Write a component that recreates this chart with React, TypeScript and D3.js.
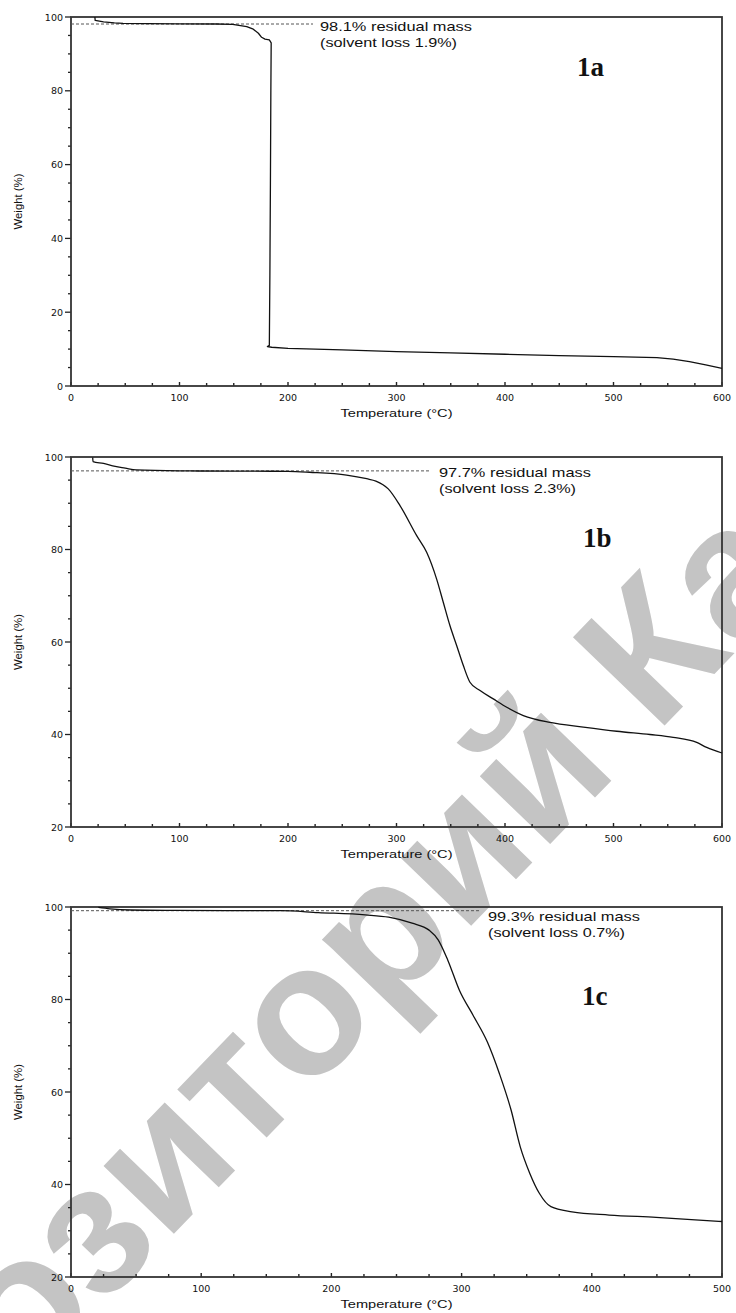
import React, { useLayoutEffect, useRef, useState } from "react";
import * as d3 from "d3";

// ---------- data ----------
const tempA = [22, 22.3, 30, 40, 48, 70, 100, 134, 149, 162, 168, 172.7, 175.7, 178.8, 182.8, 184.5, 184.2, 183.8, 183.3, 182.8, 181, 185, 200, 250, 300, 350, 400, 450, 500, 540, 555, 570, 585, 600];
const weightA = [100, 99.1, 98.7, 98.4, 98.25, 98.2, 98.15, 98.1, 98.0, 97.4, 96.7, 95.6, 94.5, 94.0, 93.8, 93.0, 80, 55, 30, 11, 10.7, 10.5, 10.2, 9.8, 9.3, 8.95, 8.6, 8.25, 7.95, 7.7, 7.3, 6.6, 5.7, 4.8];

const tempB = [20, 20.3, 30, 38.4, 50, 60, 100, 150, 200, 220, 254, 272.5, 281, 292.4, 303.2, 318.6, 327.8, 337, 343.1, 349.3, 355.5, 361.6, 367.7, 377, 389.2, 401.6, 416.9, 441.5, 472.2, 503, 533.6, 555, 576.7, 585.9, 600];
const weightB = [99.9, 99.0, 98.6, 98.1, 97.6, 97.2, 97.0, 96.95, 96.9, 96.7, 96.1, 95.3, 94.8, 93.1, 89.5, 83, 79.4, 73.6, 68.6, 63.5, 59.2, 54.9, 51.3, 49.5, 47.7, 45.9, 44.1, 42.6, 41.6, 40.7, 40.0, 39.4, 38.3, 37.2, 36.0];

const tempC = [21, 30, 46, 80, 120, 161, 190, 226, 244, 262, 275, 282, 289.4, 298.3, 309, 319.8, 329, 338, 345, 352.4, 359.7, 368.6, 384.8, 413.3, 449.4, 500];
const weightC = [99.9, 99.6, 99.35, 99.25, 99.2, 99.2, 98.8, 98.3, 97.8, 96.5, 95.0, 92.9, 88.5, 82, 76.5, 70.8, 64, 56.1, 48.2, 42.4, 38.1, 35.2, 34.1, 33.4, 32.9, 32.0];

const panelLabels = ["1a", "1b", "1c"];
const xMaxes = [600, 600, 500];
const yMins = [0, 20, 20];
const yMax = 100;
const xTickLabelsA = [0, 100, 200, 300, 400, 500, 600];
const xTickLabelsB = [0, 100, 200, 300, 400, 500, 600];
const xTickLabelsC = [0, 100, 200, 300, 400, 500];
const yTickLabelsA = [0, 20, 40, 60, 80, 100];
const yTickLabelsB = [20, 40, 60, 80, 100];
const yTickLabelsC = [20, 40, 60, 80, 100];
const residualTexts = ["98.1% residual mass", "97.7% residual mass", "99.3% residual mass"];
const solventTexts = ["(solvent loss 1.9%)", "(solvent loss 2.3%)", "(solvent loss 0.7%)"];
const residualLevels = [98.1, 97.0, 99.2];
const xTitle = "Temperature (°C)";
const yTitle = "Weight (%)";
const watermarkText = "Репозиторий КарГУ";

// ---------- layout ----------
const W = 736;
const H = 1313;
const LEFT = 71;
const RIGHT = 722;
const layouts = [
  { top: 17, bottom: 386, dashEnd: 313, textX: 320, textY1: 31, textY2: 47, labelX: 577, labelY: 76, smooth: false },
  { top: 457, bottom: 827, dashEnd: 430, textX: 439, textY1: 477, textY2: 493, labelX: 583, labelY: 547, smooth: true },
  { top: 907, bottom: 1277, dashEnd: 480, textX: 488, textY1: 921, textY2: 937, labelX: 582, labelY: 1005, smooth: true },
];

const series = [
  { t: tempA, w: weightA, xt: xTickLabelsA, yt: yTickLabelsA },
  { t: tempB, w: weightB, xt: xTickLabelsB, yt: yTickLabelsB },
  { t: tempC, w: weightC, xt: xTickLabelsC, yt: yTickLabelsC },
];

const SANS = "'DejaVu Sans', Arial, sans-serif";
const ARIAL = "'Liberation Sans', Arial, sans-serif";
const SERIF = "'Liberation Serif', 'Times New Roman', serif";

function Panel({ i }: { i: number }) {
  const L = layouts[i];
  const s = series[i];
  const x = d3.scaleLinear().domain([0, xMaxes[i]]).range([LEFT, RIGHT]);
  const y = d3.scaleLinear().domain([yMins[i], yMax]).range([L.bottom, L.top]);
  const pts: [number, number][] = s.t.map((t, k) => [t, s.w[k]]);
  const line = d3
    .line<[number, number]>()
    .x((d) => x(d[0]))
    .y((d) => y(d[1]))
    .curve(L.smooth ? d3.curveMonotoneX : d3.curveLinear);
  const yMinor = d3.range(yMins[i], yMax + 0.1, 5);
  const xMinor = d3.range(0, xMaxes[i] + 0.1, 25);
  const midX = (LEFT + RIGHT) / 2;
  const midY = (L.top + L.bottom) / 2;
  return (
    <g>
      {yMinor.map((v) => {
        const major = v % 20 === 0;
        return (
          <line key={"ym" + v} x1={LEFT - (major ? 6 : 3)} x2={LEFT} y1={y(v)} y2={y(v)} stroke="#222" strokeWidth={1.3} />
        );
      })}
      {s.yt.map((v) => (
        <text key={"yl" + v} x={LEFT - 8} y={y(v) + 3.5} textAnchor="end" fontFamily={SANS} fontSize={9.5} fill="#111">
          {v}
        </text>
      ))}
      {xMinor.map((v) => {
        const major = v % 100 === 0;
        return (
          <line key={"xm" + v} x1={x(v)} x2={x(v)} y1={L.bottom} y2={L.bottom - (major ? 4 : 3)} stroke="#222" strokeWidth={1.4} />
        );
      })}
      {s.xt.map((v) => (
        <text key={"xl" + v} x={x(v)} y={L.bottom + 15} textAnchor="middle" fontFamily={SANS} fontSize={9.5} fill="#111">
          {v}
        </text>
      ))}
      <rect x={LEFT} y={L.top} width={RIGHT - LEFT} height={L.bottom - L.top} fill="none" stroke="#333" strokeWidth={1.8} />
      <text x={midX} y={L.bottom + 31} textAnchor="middle" fontFamily={ARIAL} fontSize={11.5} fill="#111" textLength={112} lengthAdjust="spacingAndGlyphs">
        {xTitle}
      </text>
      <text transform={`translate(22,${midY}) rotate(-90)`} textAnchor="middle" fontFamily={ARIAL} fontSize={10.5} fill="#111" textLength={56} lengthAdjust="spacingAndGlyphs">
        {yTitle}
      </text>
      <line x1={LEFT} x2={L.dashEnd} y1={y(residualLevels[i])} y2={y(residualLevels[i])} stroke="#555" strokeWidth={1} strokeDasharray="3,2" />
      <text x={L.textX} y={L.textY1} fontFamily={ARIAL} fontSize={13} fill="#111" textLength={152} lengthAdjust="spacingAndGlyphs">
        {residualTexts[i]}
      </text>
      <text x={L.textX} y={L.textY2} fontFamily={ARIAL} fontSize={13} fill="#111" textLength={137} lengthAdjust="spacingAndGlyphs">
        {solventTexts[i]}
      </text>
      <text x={L.labelX} y={L.labelY} fontFamily={SERIF} fontWeight="bold" fontSize={27} fill="#111">
        {panelLabels[i]}
      </text>
      <path d={line(pts) || ""} fill="none" stroke="#111" strokeWidth={1.3} strokeLinejoin="round" />
    </g>
  );
}

function Watermark() {
  const ref = useRef<SVGTextElement>(null);
  const [off, setOff] = useState(-500);
  useLayoutEffect(() => {
    const el = ref.current;
    if (!el) return;
    try {
      const start = el.getSubStringLength(0, 4);
      const w = el.getSubStringLength(4, 1);
      setOff(-(start + w / 2));
    } catch (e) {
      /* ignore */
    }
  }, []);
  return (
    <text
      ref={ref}
      transform="translate(133,1276) rotate(-46)"
      x={off}
      y={0}
      fontFamily={ARIAL}
      fontWeight="bold"
      fontSize={185}
      fill="#c4c4c4"
    >
      {watermarkText}
    </text>
  );
}

export default function App() {
  return (
    <div style={{ position: "absolute", left: 0, top: 0 }}>
      <svg width={W} height={H} viewBox={`0 0 ${W} ${H}`} style={{ display: "block", background: "#fff" }}>
        <rect x={0} y={0} width={W} height={H} fill="#fff" />
        <Watermark />
        {[0, 1, 2].map((i) => (
          <Panel key={i} i={i} />
        ))}
      </svg>
    </div>
  );
}
